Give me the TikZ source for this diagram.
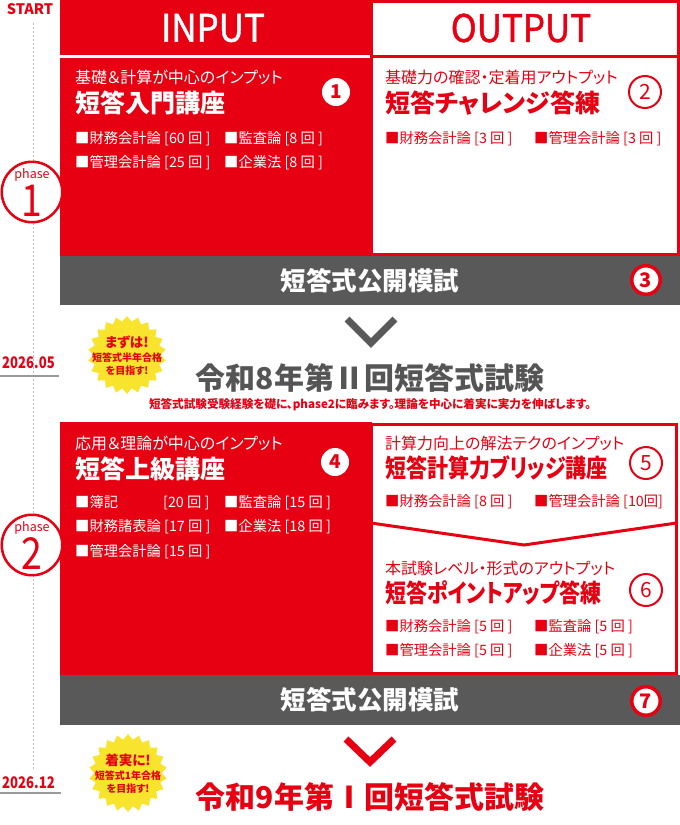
\documentclass[tikz,border=0pt]{standalone}
\usepackage{fontspec}
\setmainfont{Noto Sans CJK JP}[RawFeature=+palt]
\newfontfamily\headfont{Noto Sans CJK JP}[FakeBold=1.2]
\usetikzlibrary{shapes.geometric}
\definecolor{jred}{HTML}{E60012}
\definecolor{jgray}{HTML}{595959}
\definecolor{jyellow}{HTML}{F8E42C}
\definecolor{jtext}{HTML}{555555}
\definecolor{dashgray}{HTML}{BBBBBB}
\definecolor{dateline}{HTML}{9A9A9A}
\newcommand\fsz[1]{\fontsize{#1}{#1}\selectfont}
\newcommand\narrow[2]{\scalebox{#1}[1]{#2}}
\tikzset{
  lbl/.style={inner sep=0, anchor=west},
  subt/.style={lbl, font=\fsz{16}},
  ttl/.style={lbl, font=\bfseries\fsz{25}},
  itm/.style={lbl, font=\fsz{14.3}},
  numw/.style={circle, fill=white, text=jred, minimum size=28, inner sep=0, font=\bfseries\fsz{19}},
  numr/.style={circle, draw=jred, line width=2, fill=white, text=jred, minimum size=32, inner sep=0, font=\fsz{21}},
  numg/.style={circle, draw=jred, line width=3.5, fill=white, text=jred, minimum size=28.5, inner sep=0, font=\bfseries\fsz{20}},
  phasec/.style={circle, draw=jred, line width=2.5, fill=white, minimum size=60.5, inner sep=0},
  burst/.style={star, star points=22, star point ratio=1.16, fill=jyellow, minimum size=78, inner sep=0},
  bursttxt/.style={align=center, text=jred, inner sep=0, font=\bfseries\fontsize{10}{13.5}\selectfont},
  chev/.style={line width=7, miter limit=10},
  barlbl/.style={text=white, inner sep=0, font=\bfseries\fsz{25.5}},
  datelbl/.style={text=jred, inner sep=0, anchor=west, font=\bfseries\fsz{16}},
  exam/.style={inner sep=0, font=\bfseries\fsz{30}},
}
\begin{document}
\begin{tikzpicture}[x=1pt,y=-1pt]
\useasboundingbox (0,0) rectangle (680,825);
\fill[white] (0,0) rectangle (680,825);

% timeline
\node[text=jred, inner sep=0, font=\bfseries\fsz{14.5}] (start) at (30,9) {START};
\coordinate (tlTop) at (33,23);
\coordinate (tlEnd) at (33,770);
\draw[dashgray, line width=1, dash pattern=on 2pt off 2pt] (tlTop) -- (tlEnd);

% ---------- phase 1 ----------
\fill[jred] (60,0) rectangle (372,256);
\draw[jred, line width=3, fill=white] (371,1.5) rectangle (678.5,254.5);
\fill[white] (60,55) rectangle (369.5,58);
\draw[jred, line width=3] (372,56.5) -- (680,56.5);
\node[text=white, inner sep=0, font=\headfont\fsz{38}] (input) at (213,28) {\narrow{0.92}{INPUT}};
\node[text=jred, inner sep=0, font=\headfont\fsz{38}] (output) at (521,28) {\narrow{0.92}{OUTPUT}};

\node[subt, text=white] (sub1) at (75,77) {基礎＆計算が中心のインプット};
\node[ttl, text=white] (ttl1) at (75,103) {短答入門講座};
\node[numw] (n1) at (336,92) {1};
\node[itm, text=white] (i1a) at (75,139) {■財務会計論 [60 回 ]};
\node[itm, text=white] (i1b) at (224,139) {■監査論 [8 回 ]};
\node[itm, text=white] (i1c) at (75,163) {■管理会計論 [25 回 ]};
\node[itm, text=white] (i1d) at (224,163) {■企業法 [8 回 ]};

\node[subt, text=jred] (sub2) at (385,77) {基礎力の確認・定着用アウトプット};
\node[ttl, text=jred] (ttl2) at (385,103) {短答チャレンジ答練};
\node[numr] (n2) at (645,92) {2};
\node[itm, text=jred] (i2a) at (385,139) {■財務会計論 [3 回 ]};
\node[itm, text=jred] (i2b) at (534,139) {■管理会計論 [3 回 ]};

\fill[jgray] (60,256) rectangle (680,305);
\node[barlbl] (mock1) at (370,281) {短答式公開模試};
\node[numg] (n3) at (646,280) {3};

\node[phasec] (ph1) at (32,192) {};
\node[text=jred, inner sep=0, font=\fsz{12.5}] (ph1a) at (32,175) {phase};
\node[text=jred, inner sep=0, font=\fsz{44}] (ph1b) at (32,201) {\narrow{0.85}{1}};

\coordinate (c1a) at (347,319);
\coordinate (c1b) at (371,343);
\coordinate (c1c) at (395,319);
\draw[jgray, chev] (c1a) -- (c1b) -- (c1c);

\node[burst] (star1) at (127,355) {};
\node[bursttxt] (star1t) at (127,356) {{\fontsize{13.5}{14}\selectfont まずは!}\\短答式半年合格\\を目指す!};

\node[datelbl] (d1) at (2,363) {\narrow{0.82}{2026.05}};
\coordinate (d1l) at (0,376);
\coordinate (d1r) at (59,376);
\draw[dateline, line width=2] (d1l) -- (d1r);

\node[exam, text=jtext] (exam1) at (370,378) {令和8年第Ⅱ回短答式試験};
\node[inner sep=0, text=jred, font=\bfseries\fsz{11.6}] (note1) at (370,405) {短答式試験受験経験を礎に、phase2に臨みます。理論を中心に着実に実力を伸ばします。};

% ---------- phase 2 ----------
\fill[jred] (60,422) rectangle (372,675);
\draw[jred, line width=3, fill=white] (371,424.5) rectangle (676.5,673.5);
\draw[jred, line width=3, miter limit=20] (371,523) -- (524,545) -- (676.5,523);

\node[subt, text=white] (sub4) at (75,443) {応用＆理論が中心のインプット};
\node[ttl, text=white] (ttl4) at (75,469) {短答上級講座};
\node[numw] (n4) at (335,462) {4};
\node[itm, text=white] (i4a) at (75,503) {\makebox[88pt][l]{■簿記}[20 回 ]};
\node[itm, text=white] (i4b) at (224,503) {■監査論 [15 回 ]};
\node[itm, text=white] (i4c) at (75,527) {■財務諸表論 [17 回 ]};
\node[itm, text=white] (i4d) at (224,527) {■企業法 [18 回 ]};
\node[itm, text=white] (i4e) at (75,552) {■管理会計論 [15 回 ]};

\node[subt, text=jred] (sub5) at (385,443) {計算力向上の解法テクのインプット};
\node[ttl, text=jred] (ttl5) at (385,468) {\narrow{0.84}{短答計算力ブリッジ講座}};
\node[numr] (n5) at (646,463) {5};
\node[itm, text=jred] (i5a) at (385,502) {■財務会計論 [8 回 ]};
\node[itm, text=jred] (i5b) at (534,502) {■管理会計論 [10回]};

\node[subt, text=jred] (sub6) at (385,568) {本試験レベル・形式のアウトプット};
\node[ttl, text=jred] (ttl6) at (385,593) {\narrow{0.84}{短答ポイントアップ答練}};
\node[numr] (n6) at (646,590) {6};
\node[itm, text=jred] (i6a) at (385,627) {■財務会計論 [5 回 ]};
\node[itm, text=jred] (i6b) at (534,627) {■監査論 [5 回 ]};
\node[itm, text=jred] (i6c) at (385,651) {■管理会計論 [5 回 ]};
\node[itm, text=jred] (i6d) at (534,651) {■企業法 [5 回 ]};

\fill[jgray] (60,675) rectangle (680,725);
\node[barlbl] (mock2) at (370,700) {短答式公開模試};
\node[numg] (n7) at (646,701) {7};

\node[phasec] (ph2) at (32,545) {};
\node[text=jred, inner sep=0, font=\fsz{12.5}] (ph2a) at (32,528) {phase};
\node[text=jred, inner sep=0, font=\fsz{44}] (ph2b) at (32,554) {\narrow{0.85}{2}};

\coordinate (c2a) at (346,739);
\coordinate (c2b) at (370,762);
\coordinate (c2c) at (394,739);
\draw[jred, chev] (c2a) -- (c2b) -- (c2c);

\node[burst] (star2) at (128,773) {};
\node[bursttxt] (star2t) at (128,774) {{\fontsize{13.5}{14}\selectfont 着実に!}\\短答式1年合格\\を目指す!};

\node[datelbl] (d2) at (2,783) {\narrow{0.82}{2026.12}};
\coordinate (d2l) at (0,793);
\coordinate (d2r) at (61,793);
\draw[dateline, line width=2] (d2l) -- (d2r);

\node[exam, text=jred] (exam2) at (370,797) {令和9年第Ⅰ回短答式試験};
\end{tikzpicture}
\end{document}
